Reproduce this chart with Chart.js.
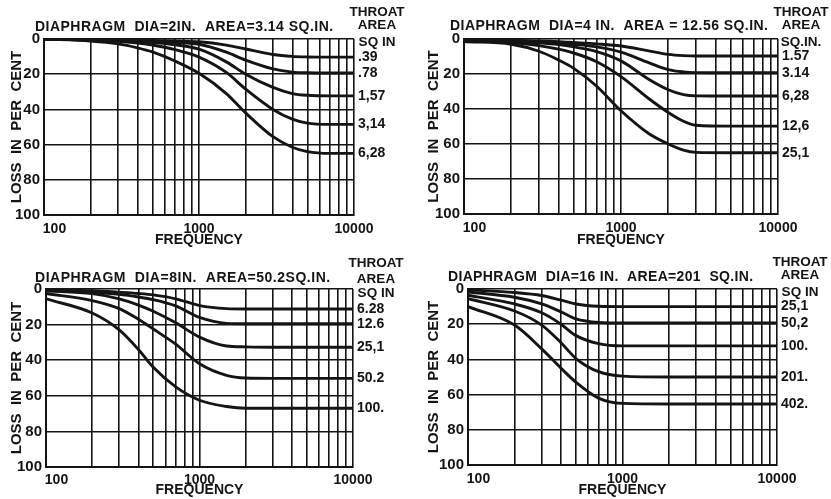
<!DOCTYPE html>
<html lang="en">
  <head>
    <meta charset="UTF-8">
    <script src="https://cdn.jsdelivr.net/npm/chart.js@4.4.0/dist/chart.umd.min.js"></script>
    <style>
      body { margin: 0; background: #FFFFFF; }
      .sheet { position: relative; width: 831px; height: 499px; }
      .sheet canvas { position: absolute; }
    </style>
  </head>
  <body>
    <div class="sheet">
      <canvas id="p1" width="415" height="250" style="left:0;top:0"></canvas>
      <canvas id="p2" width="416" height="250" style="left:415px;top:0"></canvas>
      <canvas id="p3" width="415" height="249" style="left:0;top:250px"></canvas>
      <canvas id="p4" width="416" height="249" style="left:415px;top:250px"></canvas>
    </div>

    <script>
      // log grid and axis labels
      const gridFreqs = [100, 200, 300, 400, 500, 600, 700, 800, 900,
                         1000, 2000, 3000, 4000, 5000, 6000, 7000, 8000, 9000, 10000];
      const xLabels = [100, 1000, 10000];
      const yTicks = [0, 20, 40, 60, 80, 100];

      // diaphragm 2 in.
      const freq1 = [100, 200, 300, 400, 500, 700, 1000, 1500, 2000, 3000, 4000, 5000, 7000, 10000];
      const loss1a = [0, 0.2, 0.4, 0.6, 0.8, 1.1, 1.6, 3.5, 5.7, 8.8, 9.9, 10.2, 10.3, 10.3];
      const loss1b = [0, 0.3, 0.6, 0.9, 1.2, 1.9, 3, 7.5, 12, 17, 18.8, 19.2, 19.3, 19.3];
      const loss1c = [0, 0.4, 0.8, 1.3, 1.9, 3.3, 5.8, 13, 20, 27.5, 31, 32, 32.3, 32.3];
      const loss1d = [0, 0.6, 1.3, 2.3, 3.4, 6, 10.3, 19, 28.5, 40, 45.5, 47.8, 48.5, 48.5];
      const loss1e = [0, 1.2, 2.8, 5, 7.3, 12.5, 19.5, 31, 42, 55.5, 61.5, 64, 65, 65];
      const throat1 = ['.39', '.78', '1,57', '3,14', '6,28'];

      // diaphragm 4 in.
      const freq2 = [100, 200, 300, 400, 500, 700, 1000, 1500, 2000, 2500, 3000, 5000, 10000];
      const loss2a = [0.5, 0.8, 1.1, 1.5, 2, 2.8, 4, 6.8, 8.8, 9.5, 9.7, 9.7, 9.7];
      const loss2b = [0.5, 1, 1.6, 2.3, 3, 4.5, 7.5, 13.5, 17.5, 18.8, 19.2, 19.3, 19.3];
      const loss2c = [0.8, 1.3, 2.2, 3.2, 4.5, 7.2, 12.5, 23, 29, 31.8, 32.5, 32.6, 32.6];
      const loss2d = [1, 2, 3.8, 5.8, 8, 13, 21.5, 34, 42, 47, 49.3, 49.8, 49.8];
      const loss2e = [1.5, 3, 7, 12, 16.8, 27, 41, 54, 60, 63.5, 64.8, 65, 65];
      const throat2 = ['1.57', '3.14', '6,28', '12,6', '25,1'];

      // diaphragm 8 in.
      const freq3 = [100, 200, 300, 400, 500, 700, 1000, 1500, 2000, 3000, 10000];
      const loss3a = [0.5, 1, 1.8, 2.5, 3.3, 5.5, 9.3, 11, 11.2, 11.2, 11.2];
      const loss3b = [0.8, 1.8, 3, 4.5, 6, 9.5, 16, 19.3, 19.5, 19.5, 19.5];
      const loss3c = [1, 2.6, 5.5, 9, 12.5, 19, 27, 32, 32.5, 32.7, 32.7];
      const loss3d = [2.5, 6.5, 11, 17, 22.5, 31, 42, 48.5, 50, 50.2, 50.2];
      const loss3e = [5.5, 13.5, 23, 34, 44, 55, 62.5, 66, 67, 67, 67];
      const throat3 = ['6.28', '12.6', '25,1', '50.2', '100.'];

      // diaphragm 16 in.
      const freq4 = [100, 200, 300, 400, 500, 700, 1000, 2000, 10000];
      const loss4a = [0.5, 2, 3.7, 6.3, 8.5, 9.8, 10, 10, 10];
      const loss4b = [1.7, 4.7, 8.5, 13, 17, 19, 19.3, 19.3, 19.3];
      const loss4c = [3.5, 8.5, 13.5, 20, 26.5, 31, 32.3, 32.3, 32.3];
      const loss4d = [5.5, 12.5, 20.5, 30.5, 39.5, 47, 49.5, 50, 50];
      const loss4e = [10, 20.5, 34, 45, 53, 62, 65, 65.3, 65.3];
      const throat4 = ['25,1', '50,2', '100.', '201.', '402.'];

      const ink = '#141414';
      const face = '"Liberation Sans", Arial, sans-serif';

      // spread text out to a given width
      function spacedText(ctx, text, x, y, width) {
        const w = ctx.measureText(text).width;
        if ('letterSpacing' in ctx) {
          ctx.letterSpacing = ((width - w) / (text.length - 1)).toFixed(2) + 'px';
          ctx.fillText(text, x, y);
          ctx.letterSpacing = '0px';
        } else {
          ctx.fillText(text, x, y);
        }
      }

      const panelText = {
        id: 'panelText',
        afterDraw(chart, args, o) {
          const { ctx, chartArea: a } = chart;
          const yScale = chart.scales.y;
          ctx.save();
          ctx.fillStyle = ink;
          ctx.textBaseline = 'middle';
          ctx.textAlign = 'left';
          ctx.font = 'bold 14px ' + face;
          spacedText(ctx, o.title, o.titleX, o.titleY, o.titleW);
          ctx.textAlign = 'center';
          ctx.font = 'bold 13.5px ' + face;
          o.heads.forEach((h, i) => ctx.fillText(h, a.right + 23, o.headY[i]));
          ctx.textAlign = 'left';
          ctx.font = 'bold 14px ' + face;
          chart.data.datasets.forEach(ds => {
            const last = ds.data[ds.data.length - 1].y;
            ctx.fillText(ds.label, a.right + 4, yScale.getPixelForValue(last));
          });
          ctx.restore();
        }
      };

      function makePanel(id, freqs, series, names, box, text) {
        const datasets = series.map((vals, i) => ({
          label: names[i],
          data: freqs.map((f, j) => ({ x: f, y: vals[j] })),
          borderColor: ink,
          borderWidth: 2.9,
          pointRadius: 0,
          fill: false,
          cubicInterpolationMode: 'monotone'
        }));
        return new Chart(document.getElementById(id), {
          type: 'line',
          data: { datasets },
          plugins: [panelText],
          options: {
            responsive: false,
            animation: false,
            layout: { padding: { top: box.top, right: box.right, bottom: 0, left: 0 } },
            plugins: {
              legend: { display: false },
              tooltip: { enabled: false },
              panelText: text
            },
            scales: {
              x: {
                type: 'logarithmic',
                min: 100,
                max: 10000,
                afterBuildTicks: s => { s.ticks = gridFreqs.map(v => ({ value: v })); },
                afterFit: s => { s.height = box.xh; },
                grid: { color: ink, lineWidth: 1.6, drawTicks: false },
                border: { color: ink, width: 2 },
                ticks: {
                  autoSkip: false,
                  maxRotation: 0,
                  padding: box.tp,
                  color: ink,
                  font: { family: face, size: 14, weight: 'bold' },
                  callback: v => xLabels.includes(v) ? (v === 100 ? '\u2002\u2002\u2002100' : String(v)) : ''
                },
                title: {
                  display: true,
                  text: 'FREQUENCY',
                  color: ink,
                  font: { family: face, size: 14, weight: 'bold' },
                  padding: { top: 0, bottom: box.fb }
                }
              },
              y: {
                type: 'linear',
                reverse: true,
                min: 0,
                max: 100,
                afterBuildTicks: s => { s.ticks = yTicks.map(v => ({ value: v })); },
                afterFit: s => { s.width = box.left; },
                grid: { color: ink, lineWidth: 1.6, drawTicks: false },
                border: { color: ink, width: 2 },
                ticks: {
                  padding: 4,
                  color: ink,
                  font: { family: face, size: 15, weight: 'bold' }
                },
                title: {
                  display: true,
                  text: 'LOSS  IN  PER  CENT',
                  color: ink,
                  font: { family: face, size: 15, weight: 'bold' },
                  padding: { top: box.yt, bottom: 0 }
                }
              }
            }
          }
        });
      }

      makePanel('p1', freq1, [loss1a, loss1b, loss1c, loss1d, loss1e], throat1,
        { left: 44, top: 39, right: 61, xh: 35, tp: 6, fb: 1, yt: 8 },
        { title: 'DIAPHRAGM  DIA=2IN.  AREA=3.14 SQ.IN.', titleX: 35, titleY: 27, titleW: 298,
          heads: ['THROAT', 'AREA', 'SQ IN'], headY: [12, 25, 42] });

      makePanel('p2', freq2, [loss2a, loss2b, loss2c, loss2d, loss2e], throat2,
        { left: 49, top: 39, right: 53, xh: 36, tp: 6, fb: 1, yt: 10 },
        { title: 'DIAPHRAGM  DIA=4 IN.  AREA = 12.56 SQ.IN.', titleX: 35, titleY: 26, titleW: 318,
          heads: ['THROAT', 'AREA', 'SQ.IN.'], headY: [12, 25, 42] });

      makePanel('p3', freq3, [loss3a, loss3b, loss3c, loss3d, loss3e], throat3,
        { left: 46, top: 39, right: 62, xh: 32, tp: 5, fb: 0, yt: 8 },
        { title: 'DIAPHRAGM  DIA=8IN.  AREA=50.2SQ.IN.', titleX: 35, titleY: 28, titleW: 295,
          heads: ['THROAT', 'AREA', 'SQ IN'], headY: [13, 29, 43] });

      makePanel('p4', freq4, [loss4a, loss4b, loss4c, loss4d, loss4e], throat4,
        { left: 53, top: 39, right: 54, xh: 34, tp: 6, fb: 0, yt: 10 },
        { title: 'DIAPHRAGM  DIA=16 IN.  AREA=201  SQ.IN.', titleX: 33, titleY: 27, titleW: 305,
          heads: ['THROAT', 'AREA', 'SQ IN'], headY: [12, 25, 42] });
    </script>
  </body>
</html>
